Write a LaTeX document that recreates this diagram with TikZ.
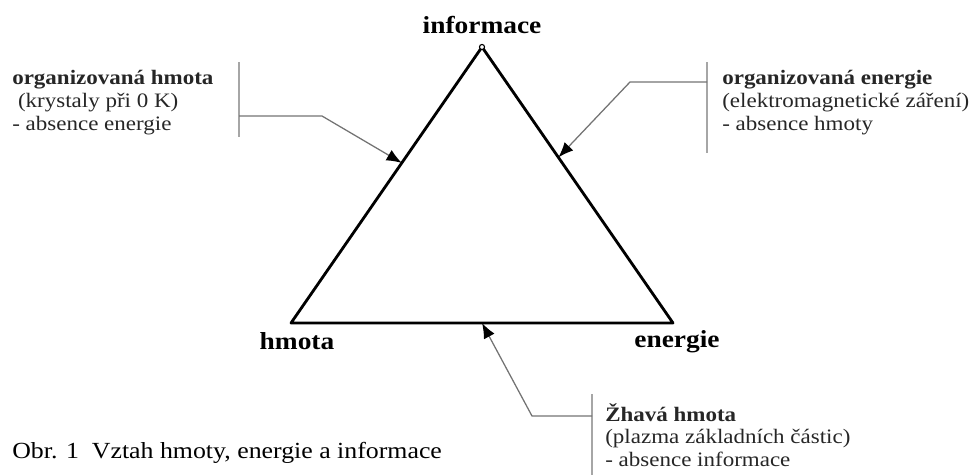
\documentclass[tikz,border=0pt]{standalone}
\usepackage{fontspec}
\setmainfont{Liberation Serif}[FakeStretch=1.12]
\usetikzlibrary{arrows.meta, calc}

\begin{document}
\begin{tikzpicture}[x=0.025cm, y=-0.025cm,
    corner/.style={font=\fontsize{17.4}{20}\selectfont\bfseries, inner sep=0pt, anchor=base},
    note/.style={align=left, anchor=north west, inner sep=0pt, text=black!85,
      font=\fontsize{14.6}{16.2}\selectfont},
    side/.style={line width=2pt, line join=round},
    callout/.style={black!55, line width=0.9pt,
      -{Latex[length=3.8mm, width=3mm, color=black]}},
    bracket/.style={black!35, line width=1.4pt},
  ]
  \useasboundingbox (0,0) rectangle (970,475);

  % triangle
  \coordinate (hm)  at (291,323);
  \coordinate (en)  at (673,323);
  \coordinate (inf) at (482,47);
  \draw[side] (hm) -- (en) -- (inf) -- cycle;
  \draw[line width=0.8pt, fill=white] (inf) circle (1.8pt);

  \node[corner] (inf-l) at (482,33)  {informace};
  \node[corner] (hm-l)  at (297,349) {hmota};
  \node[corner] (en-l)  at (677,347) {energie};

  % notes
  \node[note] (orgh) at (12,70)
    {\textbf{organizovaná hmota}\\\ (krystaly při 0 K)\\- absence energie};
  \node[note] (orge) at (722,70)
    {\textbf{organizovaná energie}\\(elektromagnetické záření)\\- absence hmoty};
  \node[note] (zhav) at (605,403)
    {\textbf{Žhavá hmota}\\(plazma základních částic)\\- absence informace};

  \node[anchor=base west, inner sep=0pt, font=\fontsize{16.4}{19}\selectfont] (cap)
    at (12,458) {Obr. 1\ \ Vztah hmoty, energie a informace};

  % brackets and callouts
  \draw[bracket] (239,62) -- (239,137);
  \draw[bracket] (707,62) -- (707,153);
  \draw[bracket] (592,394) -- (592,475);

  \coordinate (lk) at (239,116);
  \coordinate (rk) at (707,82);
  \coordinate (bk) at (592,416);
  \coordinate (ltip) at ($(hm)!0.58!(inf)$);
  \coordinate (rtip) at ($(en)!0.6!(inf)$);
  \coordinate (btip) at ($(hm)!0.5!(en)$);

  \draw[callout] (lk) -- (322,116) -- (ltip);
  \draw[callout] (rk) -- (630,82) -- (rtip);
  \draw[callout] (bk) -- (532,416) -- (btip);
\end{tikzpicture}
\end{document}
